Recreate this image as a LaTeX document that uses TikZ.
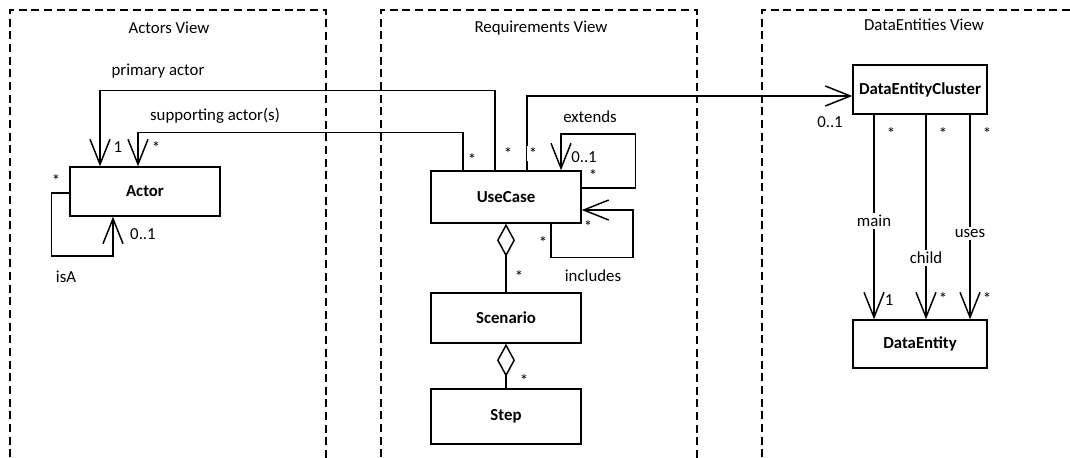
\documentclass[tikz,border=0pt]{standalone}
\usepackage{fontspec}
\setmainfont{Carlito}
\usetikzlibrary{arrows.meta,calc}

\begin{document}
\begin{tikzpicture}[x=0.75pt, y=-0.75pt,
  every node/.style={font=\fontsize{12.6}{15}\selectfont},
  view/.style={line width=0.9pt, dash pattern=on 6pt off 3.5pt},
  cls/.style={draw, line width=1.1pt, inner sep=0pt, minimum width=112.5pt,
    minimum height=37.5pt, font=\fontsize{12.6}{15}\selectfont\bfseries},
  assoc/.style={line width=1.1pt,
    -{Straight Barb[length=18.75pt, width=15pt, line width=1.1pt]}},
  aggr/.style={line width=1.1pt,
    {Diamond[open, length=24.75pt, width=13.5pt, line width=1.1pt]}-},
  mult/.style={fill=white, inner sep=1pt},
  star/.style={mult, yshift=-2.5pt},
  rolename/.style={fill=white, inner sep=1.5pt}]
\useasboundingbox (0,0) rectangle (1070,457);

% the three views
\draw[view] (10,470) -- (10,10) -- (326,10) -- (326,470);
\draw[view] (381,470) -- (381,10) -- (697,10) -- (697,470);
\draw[view] (762,470) -- (762,10) -- (1090,10);
\node (actview) at (169,28) {Actors View};
\node (reqview) at (541,28) {Requirements View};
\node (dataview) at (924,25) {DataEntities View};

% classes
\node[cls, minimum height=36.75pt] (actor) at (145,191.5) {Actor};
\node[cls, minimum height=39pt] (uc) at (506,197) {UseCase};
\node[cls] (sc) at (506,318) {Scenario};
\node[cls, minimum height=41.25pt] (st) at (506,416.5) {Step};
\node[cls, minimum width=100.5pt, minimum height=36.75pt] (dec) at (920,89.5) {DataEntityCluster};
\node[cls, minimum width=100.5pt, minimum height=36pt] (de) at (920,344) {DataEntity};

% actors
\draw[assoc] ($(uc.north)+(-11,0)$) -- ++(0,-80) -| ($(actor.north)+(-45,0)$);
\draw[assoc] ($(uc.north)+(-43,0)$) -- ++(0,-38) -| ($(actor.north)+(-7,0)$);
\draw[assoc] ($(actor.west)+(0,1.5)$) -- ++(-18,0) -- ++(0,63) -| ($(actor.south)+(-32,0)$);
\node (prim) at (158,71) {primary actor};
\node (supp) at (215,116) {supporting actor(s)};
\node (isa) at (66,277) {isA};
\node[inner sep=1pt] (m1) at (118,147) {1};
\node[star] (m2) at (156,144) {*};
\node[star] (m3) at (56,177) {*};
\node[mult] (m4) at (143,234) {0..1};
\node[star] (m5) at (472,156) {*};
\node[star] (m6) at (508,150) {*};

% use cases
\draw[assoc] ($(uc.north)+(21,0)$) |- ($(dec.west)+(0,6.5)$);
\draw[assoc] ($(uc.east)+(0,-9)$) -- ++(54,0) -- ++(0,-54) -| ($(uc.north)+(55,0)$);
\draw[assoc] ($(uc.south)+(45,0)$) -- ++(0,34) -- ++(82,0) |- ($(uc.east)+(0,13)$);
\draw[aggr] (uc.south) -- (sc.north);
\draw[aggr] (sc.south) -- (st.north);
\node (ext) at (590,117) {extends};
\node (inc) at (593,276) {includes};
\node[star] (m7) at (533,150) {*};
\node[mult] (m8) at (584,157) {0..1};
\node[star] (m9) at (593,172) {*};
\node[star] (m10) at (588,223) {*};
\node[star] (m11) at (543,239) {*};
\node[star] (m12) at (519,273) {*};
\node[star] (m13) at (524,377) {*};
\node[mult] (m14) at (830,122) {0..1};

% data entities
\draw[assoc] ($(dec.south)+(-46,0)$) -- node[rolename, pos=0.52] (main) {main} ($(de.north)+(-46,0)$);
\draw[assoc] ($(dec.south)+(6,0)$) -- node[rolename, pos=0.7] (child) {child} ($(de.north)+(6,0)$);
\draw[assoc] ($(dec.south)+(50,0)$) -- node[rolename, pos=0.58] (uses) {uses} ($(de.north)+(50,0)$);
\node[star] (m15) at (891,130) {*};
\node[star] (m16) at (943,130) {*};
\node[star] (m17) at (987,130) {*};
\node[inner sep=1pt] (m18) at (889,300) {1};
\node[star] (m19) at (943,295) {*};
\node[star] (m20) at (987,295) {*};
\end{tikzpicture}
\end{document}
